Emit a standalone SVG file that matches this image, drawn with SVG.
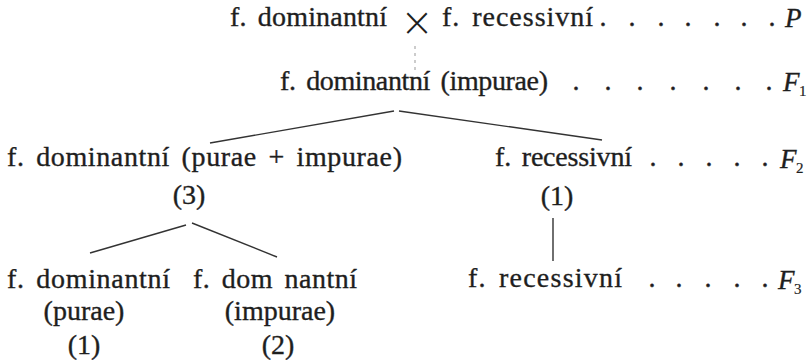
<svg xmlns="http://www.w3.org/2000/svg" width="812" height="361" viewBox="0 0 812 361">
<style>
text{font-family:"Liberation Serif","DejaVu Serif","Times New Roman",serif;font-size:28px;fill:#1e1e1e;stroke:#1e1e1e;stroke-width:0.35px;word-spacing:4px}
.m{text-anchor:middle}
.it{font-style:italic;font-size:27px}
.sub{font-size:15px;stroke-width:0.2px}
.dots{text-anchor:middle;font-size:28px}
.x{font-family:"DejaVu Sans","Liberation Sans",sans-serif;font-weight:200;font-size:40px;text-anchor:middle;stroke-width:0}
.ln{stroke:#333;stroke-width:1.4;fill:none}
.dash{stroke:#999;stroke-width:1;stroke-dasharray:3 4;fill:none}
</style>
<rect width="812" height="361" fill="#fff"/>
<g id="connectors">
<line class="dash" x1="415" y1="46" x2="415" y2="70"/>
<line class="ln" x1="210" y1="143" x2="394" y2="111"/>
<line class="ln" x1="399" y1="111" x2="602" y2="140"/>
<line class="ln" x1="90" y1="253" x2="186" y2="225"/>
<line class="ln" x1="192" y1="223" x2="277" y2="257"/>
<line class="ln" x1="553" y1="218" x2="553" y2="261"/>
</g>
<g id="P">
<text x="230" y="26" textLength="157">f. dominantní</text>
<text class="x" x="417" y="36">×</text>
<text x="442" y="26" textLength="151">f. recessivní</text>
<text class="dots" x="603 632 661 688 717 744 772" y="26">.......</text>
<text class="it" x="785" y="27">P</text>
</g>
<g id="F1">
<text x="280" y="90" textLength="268">f. dominantní (impurae)</text>
<text class="dots" x="576 608 640 673 706 738 769" y="90">.......</text>
<text class="it" x="783" y="91">F</text>
<text class="sub" x="799" y="96">1</text>
</g>
<g id="F2-dominant">
<text x="7" y="166" textLength="395">f. dominantní (purae + impurae)</text>
<text class="m" x="189" y="204">(3)</text>
</g>
<g id="F2-recessive">
<text x="495" y="166" textLength="137">f. recessivní</text>
<text class="dots" x="653 681 709 737 765" y="166">.....</text>
<text class="it" x="780" y="168">F</text>
<text class="sub" x="796" y="173">2</text>
<text class="m" x="557" y="205">(1)</text>
</g>
<g id="F3-dominant-purae">
<text x="7" y="288" textLength="163">f. dominantní</text>
<text class="m" x="84" y="320">(purae)</text>
<text class="m" x="84" y="354">(1)</text>
</g>
<g id="F3-dominant-impurae">
<text x="193" y="288" textLength="164">f. dom nantní</text>
<text class="m" x="280" y="320">(impurae)</text>
<text class="m" x="278" y="354">(2)</text>
</g>
<g id="F3-recessive">
<text x="468" y="287" textLength="154">f. recessivní</text>
<text class="dots" x="652 679 708 737 765" y="287">.....</text>
<text class="it" x="778" y="289">F</text>
<text class="sub" x="794" y="294">3</text>
</g>
</svg>
